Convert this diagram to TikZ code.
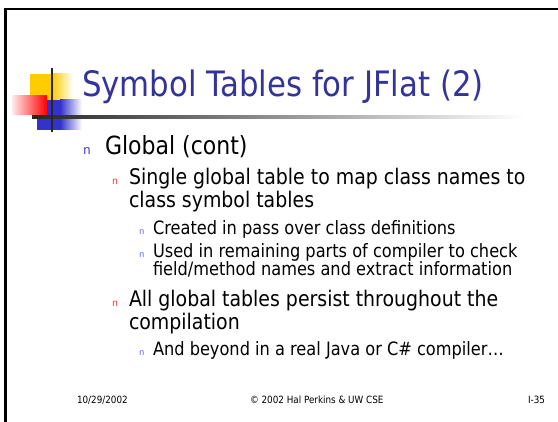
\documentclass[tikz,border=0pt]{standalone}
\usepackage{fontspec}
\newfontfamily\slidefont[FakeStretch=0.88]{DejaVu Sans}
\newfontfamily\bulletfont{Liberation Mono}
\definecolor{titleblue}{RGB}{51,51,153}
\definecolor{logogold}{RGB}{255,204,0}
\definecolor{logoblue}{RGB}{51,51,204}
\definecolor{logored}{RGB}{255,0,0}
\definecolor{bulblue}{RGB}{64,64,204}
\definecolor{bulred}{RGB}{255,51,51}
\definecolor{bulsky}{RGB}{102,102,255}
\begin{document}
\begin{tikzpicture}[x=1pt,y=-1pt,
  txt/.style={anchor=base west,inner sep=0pt,outer sep=0pt,font=\slidefont},
  lvone/.style={txt,font=\slidefont\fontsize{25}{29}\selectfont},
  lvtwo/.style={txt,font=\slidefont\fontsize{21.5}{25}\selectfont},
  lvthree/.style={txt,font=\slidefont\fontsize{18.4}{21}\selectfont},
  foot/.style={txt,font=\slidefont\fontsize{10}{12}\selectfont},
  bulone/.style={anchor=base west,inner sep=0pt,text=bulblue,font=\bulletfont\fontsize{13}{13}\selectfont},
  bultwo/.style={anchor=base west,inner sep=0pt,text=bulred,font=\bulletfont\fontsize{10}{10}\selectfont},
  bulthree/.style={anchor=base west,inner sep=0pt,text=bulsky,font=\bulletfont\fontsize{9}{9}\selectfont}]
\useasboundingbox[fill=white] (0,0) rectangle (558,422);

% slide frame: top and left rules
\draw[line width=2.5pt,black] (5.5,422) -- (5.5,9) -- (558,9);

% logo squares
\fill[logogold] (30,74) rectangle (52,100);
\shade[left color=logogold,right color=white] (52,74) rectangle (73,100);
\fill[logoblue] (37,100) rectangle (60,130);
\shade[left color=logoblue,right color=white] (60,100) rectangle (82,130);
\shade[left color=logored!8,right color=logored] (12,96) rectangle (47,115);

% title rule with fade
\shade[left color=black!85,right color=white] (32,115.8) rectangle (525,118.6);
% logo cross bar
\draw[line width=1.6pt,black!85] (52,68) -- (52,132);

% title
\node[txt,text=titleblue,font=\slidefont\fontsize{35}{41}\selectfont] (title) at (82,97) {Symbol Tables for JFlat (2)};

% bullets and text
\node[bulone] (b1) at (83,155) {n};
\node[lvone] (t1) at (105,155) {Global (cont)};

\node[bultwo] (b2) at (112,185) {n};
\node[lvtwo] (t2a) at (129,185) {Single global table to map class names to};
\node[lvtwo] (t2b) at (129,208) {class symbol tables};

\node[bulthree] (b3) at (139,235) {n};
\node[lvthree] (t3) at (153,235) {Created in pass over class definitions};

\node[bulthree] (b4) at (139,258) {n};
\node[lvthree] (t4a) at (153,258) {Used in remaining parts of compiler to check};
\node[lvthree] (t4b) at (153,276) {field/method names and extract information};

\node[bultwo] (b5) at (112,307) {n};
\node[lvtwo] (t5a) at (129,307) {All global tables persist throughout the};
\node[lvtwo] (t5b) at (129,330) {compilation};

\node[bulthree] (b6) at (139,356) {n};
\node[lvthree] (t6) at (153,356) {And beyond in a real Java or C\# compiler…};

% footer
\node[foot] (date) at (77,404) {10/29/2002};
\node[foot] (copy) at (250,404) {© 2002 Hal Perkins \& UW CSE};
\node[foot] (page) at (528,404) {I-35};
\end{tikzpicture}
\end{document}
